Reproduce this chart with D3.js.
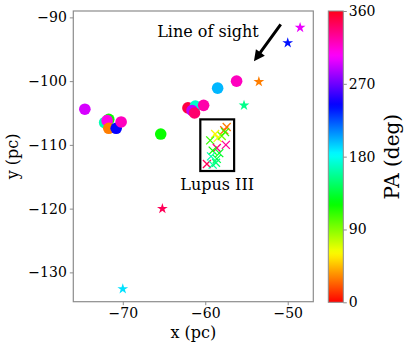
<!DOCTYPE html>
<html><head><meta charset="utf-8">
<script src="https://cdn.jsdelivr.net/npm/d3@7"></script>
<style>body{margin:0;background:#fff}svg{display:block}text{font-family:"DejaVu Serif",serif;fill:#000}</style>
</head><body>
<svg id="c" width="409" height="348"></svg>
<script>
// circles: field stars
const circX  = [-74.6, -72.2, -71.7, -71.9, -71.7, -70.8, -70.2, -65.4, -58.5, -56.2, -62.1, -61.2, -60.2, -61.6, -61.3];
const circY  = [-104.4, -106.5, -106.0, -106.2, -107.4, -107.4, -106.4, -108.3, -101.1, -100.0, -104.2, -103.9, -103.8, -104.6, -105.0];
const circPA = [295, 165, 120, 310, 30, 245, 320, 120, 200, 320, 350, 170, 325, 290, 340];
// stars
const starX  = [-48.5, -50.0, -53.5, -55.3, -65.2, -70.0];
const starY  = [-91.6, -94.0, -100.1, -103.8, -120.0, -132.6];
const starPA = [300, 240, 30, 155, 345, 190];
// crosses: Lupus III members
const crossX  = [-57.4, -57.7, -58.8, -58.5, -58.0, -57.6, -59.4, -57.5, -58.6, -59.1, -58.3, -59.3, -58.6, -59.8, -59.1, -58.7];
const crossY  = [-107.2, -107.7, -108.3, -108.9, -108.6, -108.0, -109.3, -110.0, -110.5, -110.9, -111.3, -111.8, -112.2, -113.0, -113.1, -112.8];
const crossPA = [30, 25, 60, 65, 95, 110, 110, 330, 335, 120, 130, 165, 140, 345, 160, 150];
const xTicks = [-70, -60, -50];
const yTicks = [-90, -100, -110, -120, -130];
const cTicks = [0, 90, 180, 270, 360];
const boxX = [-60.6, -56.5], boxY = [-106.0, -114.1];
const arrowFrom = [-50.85, -91.1], arrowTo = [-54.1, -96.9];

// matplotlib 'hsv' colormap segments
const hsvR = [[0,1],[0.15873,1],[0.174603,0.96875],[0.333333,0.03125],[0.349206,0],[0.666667,0],[0.68254,0.03125],[0.84127,0.96875],[0.857143,1],[1,1]];
const hsvG = [[0,0],[0.15873,0.9375],[0.174603,1],[0.507937,1],[0.666667,0.0625],[0.68254,0],[1,0]];
const hsvB = [[0,0],[0.333333,0],[0.349206,0.0625],[0.507937,1],[0.84127,1],[0.857143,0.9375],[1,0.09375]];
function seg(s, t){for(let i=1;i<s.length;i++){if(t<=s[i][0]){const a=s[i-1],b=s[i];return a[1]+(b[1]-a[1])*(t-a[0])/(b[0]-a[0]);}}return s[s.length-1][1];}
function cmap(t){t=Math.max(0,Math.min(1,t));return d3.rgb(255*seg(hsvR,t),255*seg(hsvG,t),255*seg(hsvB,t)).formatHex();}

const svg = d3.select("#c");
const L=73.3, R=313.3, T=11, B=301.7;
const x = d3.scaleLinear().domain([-76, -46.9]).range([L, R]);
const y = d3.scaleLinear().domain([-89.0, -134.6]).range([T, B]);
const pa = d3.scaleLinear().domain([0, 360]).range([0, 1]);
const col = v => cmap(pa(v));
const spine = "#8c8c8c";
const fmt = d => d3.format("")(d).replace("-","\u2212");

// axes
const gx = svg.append("g").attr("transform",`translate(0,${B})`).call(d3.axisBottom(x).tickValues(xTicks).tickSize(3.5).tickPadding(3).tickFormat(fmt));
const gy = svg.append("g").attr("transform",`translate(${L},0)`).call(d3.axisLeft(y).tickValues(yTicks).tickSize(3.5).tickPadding(3).tickFormat(fmt));
[gx,gy].forEach(g=>{g.select(".domain").remove();g.selectAll("line").attr("stroke",spine);g.selectAll("text").attr("font-family","DejaVu Serif").attr("font-size",14).attr("fill","#000");});
svg.append("rect").attr("x",L).attr("y",T).attr("width",R-L).attr("height",B-T).attr("fill","none").attr("stroke",spine).attr("stroke-width",1.2);

const plot = svg.append("g");
plot.selectAll("circle.f").data(circX.map((d,i)=>({x:d,y:circY[i],p:circPA[i]}))).join("circle")
  .attr("cx",d=>x(d.x)).attr("cy",d=>y(d.y)).attr("r",5.8).attr("fill",d=>col(d.p));
const star = d3.symbol().type(d3.symbolStar).size(36);
plot.selectAll("path.s").data(starX.map((d,i)=>({x:d,y:starY[i],p:starPA[i]}))).join("path")
  .attr("d",star).attr("transform",d=>`translate(${x(d.x)},${y(d.y)})`).attr("fill",d=>col(d.p));
plot.selectAll("path.x").data(crossX.map((d,i)=>({x:d,y:crossY[i],p:crossPA[i]}))).join("path")
  .attr("d","M-4,-4L4,4M-4,4L4,-4").attr("transform",d=>`translate(${x(d.x)},${y(d.y)})`)
  .attr("stroke",d=>col(d.p)).attr("stroke-width",1.3).attr("fill","none");
// box
svg.append("rect").attr("x",x(boxX[0])).attr("y",y(boxY[0])).attr("width",x(boxX[1])-x(boxX[0])).attr("height",y(boxY[1])-y(boxY[0]))
  .attr("fill","none").attr("stroke","#000").attr("stroke-width",2.2);
svg.append("text").attr("x",(x(boxX[0])+x(boxX[1]))/2).attr("y",y(boxY[1])+19).attr("text-anchor","middle").attr("font-size",16).text("Lupus III");
// arrow
{
  const x0=x(arrowFrom[0]),y0=y(arrowFrom[1]),x1=x(arrowTo[0]),y1=y(arrowTo[1]);
  const dx=x1-x0,dy=y1-y0,len=Math.hypot(dx,dy),ux=dx/len,uy=dy/len,nx=-uy,ny=ux;
  const hl=11,hw=5.5,sw=1.5;
  const bx=x1-ux*hl,by=y1-uy*hl;
  const pts=[[x0+nx*sw,y0+ny*sw],[bx+nx*sw,by+ny*sw],[bx+nx*hw,by+ny*hw],[x1,y1],[bx-nx*hw,by-ny*hw],[bx-nx*sw,by-ny*sw],[x0-nx*sw,y0-ny*sw]];
  svg.append("polygon").attr("points",pts.map(p=>p.join(",")).join(" ")).attr("fill","#000");
}
svg.append("text").attr("x",208).attr("y",37).attr("text-anchor","middle").attr("font-size",16).text("Line of sight");

// axis labels
svg.append("text").attr("x",(L+R)/2).attr("y",338).attr("text-anchor","middle").attr("font-size",16).text("x (pc)");
svg.append("text").attr("transform",`translate(18,${(T+B)/2}) rotate(-90)`).attr("text-anchor","middle").attr("font-size",16).text("y (pc)");

// colorbar
const cbL=328.3, cbR=343.3, cbT=11, cbB=302.3;
const cy = d3.scaleLinear().domain([0,360]).range([cbB,cbT]);
const grad = svg.append("defs").append("linearGradient").attr("id","g").attr("x1",0).attr("y1",1).attr("x2",0).attr("y2",0);
d3.range(0,361,5).forEach(v=>grad.append("stop").attr("offset",v/360).attr("stop-color",col(v)));
svg.append("rect").attr("x",cbL).attr("y",cbT).attr("width",cbR-cbL).attr("height",cbB-cbT).attr("fill","url(#g)").attr("stroke",spine).attr("stroke-width",1);
const gc = svg.append("g").attr("transform",`translate(${cbR},0)`).call(d3.axisRight(cy).tickValues(cTicks).tickSize(3.5).tickPadding(2));
gc.select(".domain").remove();gc.selectAll("line").attr("stroke",spine);gc.selectAll("text").attr("font-family","DejaVu Serif").attr("font-size",14).attr("fill","#000");
svg.append("text").attr("transform",`translate(399,${(cbT+cbB)/2}) rotate(-90)`).attr("text-anchor","middle").attr("font-size",20).text("PA (deg)");
</script>
</body></html>
